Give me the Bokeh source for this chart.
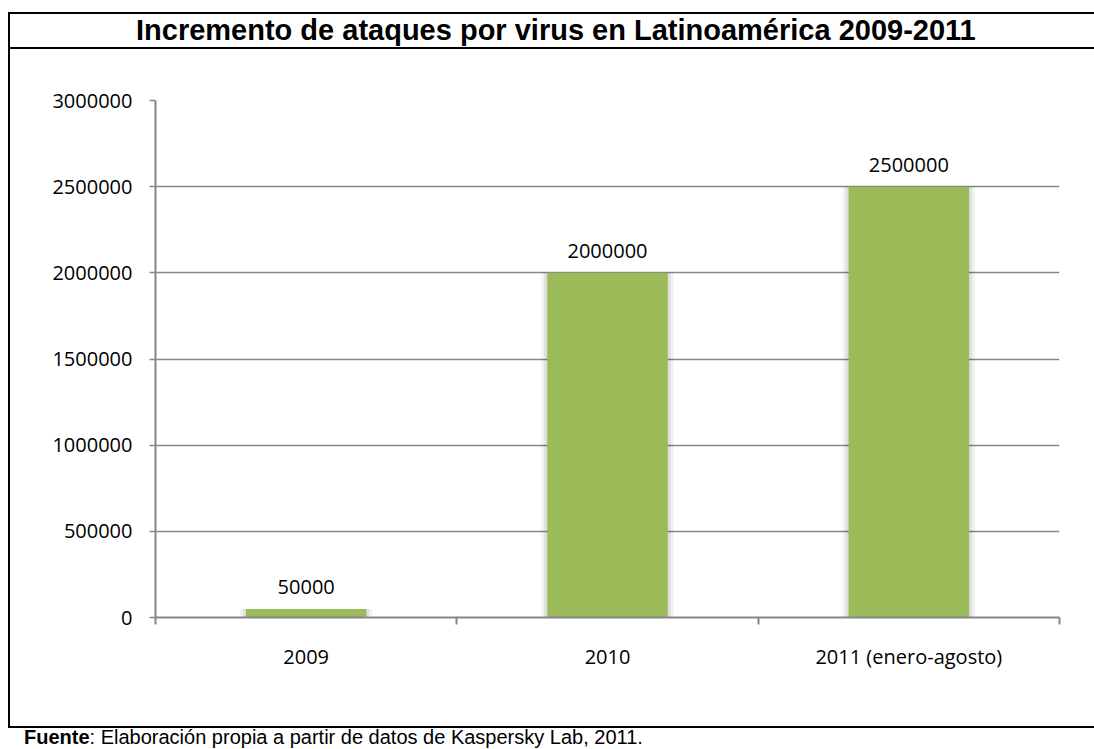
from bokeh.plotting import figure
from bokeh.models import FixedTicker, ColumnDataSource, BasicTickFormatter, Div
from bokeh.layouts import column
from bokeh.embed import file_html
from bokeh.resources import INLINE
from bokeh.core.properties import value

# ---- data ----
categories = ["2009", "2010", "2011 (enero-agosto)"]
attacks = [50000, 2000000, 2500000]
y_ticks = [0, 500000, 1000000, 1500000, 2000000, 2500000, 3000000]
title_text = "Incremento de ataques por virus en Latinoamérica 2009-2011"
source_label = "Fuente"
source_text = ": Elaboración propia a partir de datos de Kaspersky Lab, 2011."

# ---- derived ----
xpos = [i + 0.5 for i in range(len(categories))]
src = ColumnDataSource(dict(x=xpos, top=attacks, label=[str(v) for v in attacks]))

LABEL_FONT = "Open Sans"
TEXT_FONT = "'Liberation Sans', Arial, sans-serif"
GREY = "#868686"
W = 1094


def css_lines(sizes, positions):
    return {
        "background-color": "white",
        "background-image": ", ".join(["linear-gradient(#000, #000)"] * len(sizes)),
        "background-size": ", ".join(sizes),
        "background-position": ", ".join(positions),
        "background-repeat": "no-repeat",
    }


# ---- title band (0..50 px) ----
TH = 50
title_styles = css_lines(["1086px 2px", "1086px 2px", f"2px {TH - 12}px"],
                         ["8px 12px", "8px 47px", "8px 12px"])
title_styles.update({
    "font-family": TEXT_FONT, "font-weight": "bold", "font-size": "29px",
    "line-height": "61px", "text-indent": "136px", "color": "black",
    "white-space": "nowrap",
})
title_div = Div(text=title_text, width=W, height=TH, margin=(0, 0, 0, 0),
                styles=title_styles)

# ---- main chart (50..728 px) ----
MH = 678
p = figure(
    width=W, height=MH, x_range=(0, len(categories)), y_range=(0, 3000000),
    output_backend="svg", toolbar_location=None,
    min_border_left=155, min_border_right=35, min_border_top=50, min_border_bottom=111,
    styles=css_lines([f"2px {MH}px", "1086px 2px"], ["8px 0px", f"8px {MH - 2}px"]),
    margin=(0, 0, 0, 0),
)
p.outline_line_color = None
p.background_fill_color = "white"
p.border_fill_color = None

p.xgrid.grid_line_color = None
p.ygrid.ticker = FixedTicker(ticks=y_ticks)
p.ygrid.grid_line_color = GREY
p.ygrid.grid_line_width = 1.3

# shadows
p.vbar(x="x", top="top", width=0.4 + 12 / 301, bottom=0, source=src,
       fill_color="#000000", fill_alpha=0.05, line_color=None)
p.vbar(x="x", top="top", width=0.4 + 6 / 301, bottom=0, source=src,
       fill_color="#000000", fill_alpha=0.08, line_color=None)
# bars
p.vbar(x="x", top="top", width=0.4, bottom=0, source=src,
       fill_color="#9BBB59", line_color=None)

p.text(x="x", y="top", text="label", source=src, y_offset=-22,
       text_align="center", text_baseline="alphabetic",
       text_font=value(LABEL_FONT), text_font_size="20px", text_color="black")

# x axis: labels at centers, ticks at category boundaries
xa = p.xaxis[0]
xa.ticker = FixedTicker(ticks=xpos, minor_ticks=list(range(len(categories) + 1)))
xa.major_label_overrides = {x: c for x, c in zip(xpos, categories)}
xa.major_tick_out = 0
xa.major_tick_in = 0
xa.minor_tick_out = 7
xa.minor_tick_in = 0
xa.minor_tick_line_color = GREY
xa.minor_tick_line_width = 2
xa.axis_line_color = GREY
xa.axis_line_width = 2
xa.major_label_standoff = 18
xa.major_label_text_font = LABEL_FONT
xa.major_label_text_font_size = "20px"
xa.major_label_text_color = "black"

ya = p.yaxis[0]
ya.ticker = FixedTicker(ticks=y_ticks)
ya.formatter = BasicTickFormatter(use_scientific=False)
ya.major_tick_out = 6
ya.major_tick_in = 0
ya.minor_tick_out = 0
ya.minor_tick_in = 0
ya.major_tick_line_color = GREY
ya.major_tick_line_width = 1.3
ya.axis_line_color = GREY
ya.axis_line_width = 2
ya.major_label_standoff = 17
ya.major_label_text_font = LABEL_FONT
ya.major_label_text_font_size = "20px"
ya.major_label_text_color = "black"

# ---- footer band (728..749 px) ----
footer_div = Div(
    text=f"<b>{source_label}</b>{source_text}", width=W, height=21, margin=(0, 0, 0, 0),
    styles={
        "background-color": "white", "font-family": TEXT_FONT, "font-size": "20px",
        "line-height": "19px", "text-indent": "24px", "color": "black",
        "white-space": "nowrap",
    },
)

layout = column(title_div, p, footer_div, spacing=0)
open("out.html", "w").write(file_html(layout, INLINE))
